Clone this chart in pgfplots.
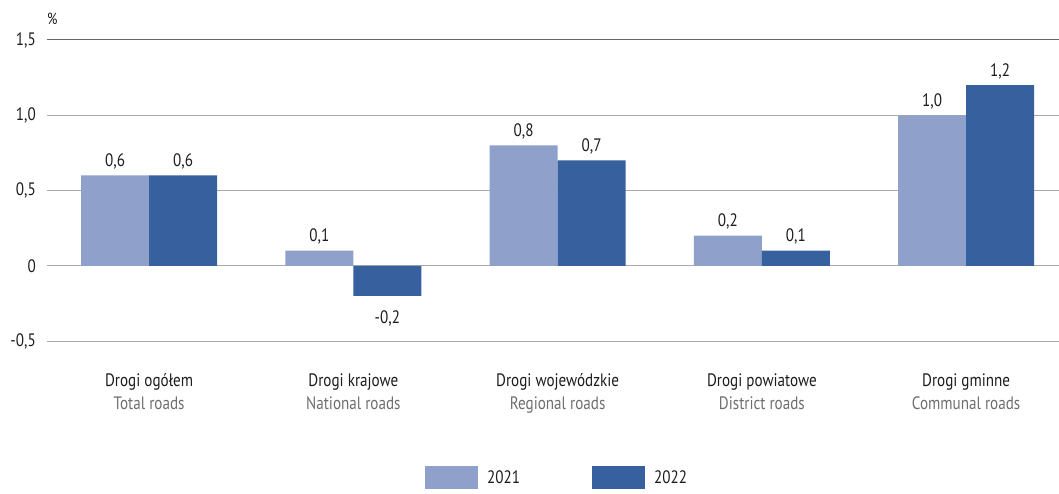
\documentclass[border=0pt]{standalone}
\usepackage{pgfplots}
\pgfplotsset{compat=1.18}
\usepackage{fontspec}
\setmainfont{PT Sans}[FakeStretch=0.84]
\definecolor{c21}{RGB}{143,160,202}
\definecolor{c22}{RGB}{54,96,158}
\definecolor{gridc}{RGB}{170,170,170}
\definecolor{txt}{RGB}{30,28,28}
\definecolor{subtxt}{RGB}{110,110,110}

\pgfplotstableread{
x y2021 y2022
0 0.6 0.6
1 0.1 -0.2
2 0.8 0.7
3 0.2 0.1
4 1.0 1.2
}\roads

\begin{document}
\fontsize{18pt}{22pt}\selectfont
\begin{tikzpicture}
\useasboundingbox (-47pt,-152pt) rectangle (1012pt,341pt);
\begin{axis}[
  at={(0pt,0pt)}, anchor=south west,
  scale only axis,
  clip=false,
  x=204.25pt, y=150.5pt,
  xmin=-0.5, xmax=4.455,
  ymin=-0.5, ymax=1.5,
  ybar=0pt, bar width=68pt,
  axis line style={draw=none},
  tick style={draw=none},
  ymajorgrids,
  grid style={gridc, line width=1pt},
  ytick={-0.5,0,0.5,1},
  yticklabels={{-0{,}5},{0},{0{,}5},{1{,}0}},
  extra y ticks={1.5},
  extra y tick labels={{1{,}5}},
  extra y tick style={grid style={black!60, line width=1pt}},
  yticklabel style={font=\fontsize{18pt}{22pt}\selectfont, text=txt, xshift=-5pt},
  xtick={0,1,2,3,4},
  xticklabels={
    {Drogi ogółem\\\textcolor{subtxt}{Total roads}},
    {Drogi krajowe\\\textcolor{subtxt}{National roads}},
    {Drogi wojewódzkie\\\textcolor{subtxt}{Regional roads}},
    {Drogi powiatowe\\\textcolor{subtxt}{District roads}},
    {Drogi gminne\\\textcolor{subtxt}{Communal roads}}},
  xticklabel style={align=center, text=txt, font=\fontsize{18pt}{23pt}\selectfont, yshift=-22pt},
  /pgf/number format/assume math mode=true,
  nodes near coords,
  nodes near coords style={font=\fontsize{18pt}{22pt}\selectfont, text=txt,
    /pgf/number format/.cd, fixed, fixed zerofill, precision=1, use comma},
  legend columns=2,
  legend style={draw=none, fill=none, at={(rel axis cs:0.504,-0.455)}, anchor=center,
    font=\fontsize{18pt}{22pt}\selectfont, text=txt,
    /tikz/every odd column/.append style={column sep=7pt},
    /tikz/every even column/.append style={column sep=70pt}},
  legend image code/.code={\fill[#1, draw=none] (0pt,-11.5pt) rectangle (53pt,11.5pt);},
]
\addplot[fill=c21, draw=none] table[x=x, y=y2021] {\roads};
% labels under negative bars sit a little lower
\addplot[fill=c22, draw=none,
  visualization depends on={\thisrow{y2022} \as \rawy},
  nodes near coords style={/tikz/yshift={(\rawy<0)*(-9)}}]
  table[x=x, y=y2022] {\roads};
\legend{2021, 2022}
\node[anchor=base west, inner sep=0pt, text=txt, font=\fontsize{16pt}{20pt}\selectfont]
  at (rel axis cs:0,1) [yshift=15pt] {\%};
\end{axis}
\end{tikzpicture}
\end{document}
